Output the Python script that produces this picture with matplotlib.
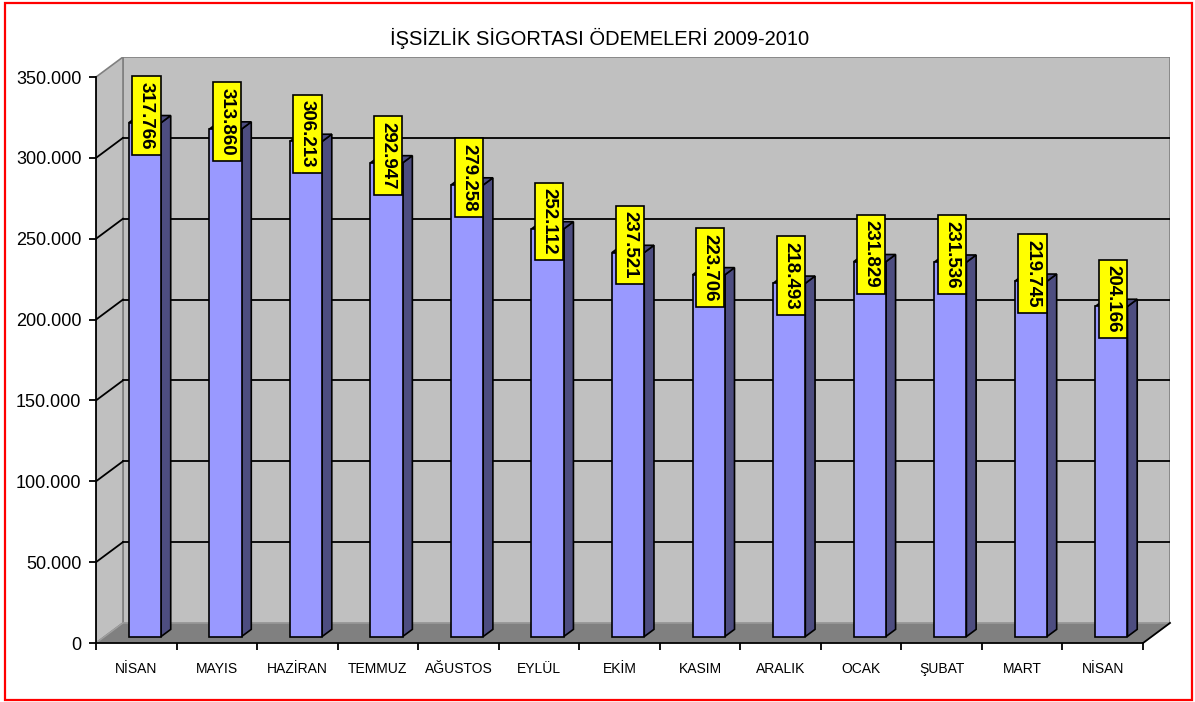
import matplotlib
matplotlib.use("Agg")
import matplotlib.pyplot as plt
from matplotlib.patches import Polygon, Rectangle

months = ["NİSAN", "MAYIS", "HAZİRAN", "TEMMUZ", "AĞUSTOS", "EYLÜL", "EKİM",
          "KASIM", "ARALIK", "OCAK", "ŞUBAT", "MART", "NİSAN"]
payments = [317766, 313860, 306213, 292947, 279258, 252112, 237521,
            223706, 218493, 231829, 231536, 219745, 204166]
y_ticks = [0, 50000, 100000, 150000, 200000, 250000, 300000, 350000]
title = "İŞSİZLİK SİGORTASI ÖDEMELERİ 2009-2010"

plt.rcParams["font.family"] = ["Liberation Sans", "DejaVu Sans"]

# pseudo-3d depth of the walls (data units)
DX = 0.335
DY = 12400
F0, F1 = 0.32, 0.68   # bar front/back as fraction of depth
BAR_W = 0.40
YMAX = 350000
n = len(months)

fig = plt.figure(figsize=(11.95, 7.02), dpi=100)
ax = fig.add_axes([96 / 1195, 59 / 702, 1074 / 1195, 586 / 702])
ax.set_xlim(0, n + DX)
ax.set_ylim(0, YMAX + DY)
ax.patch.set_visible(False)

# walls + floor
ax.add_patch(Polygon([(DX, DY), (n + DX, DY), (n + DX, YMAX + DY), (DX, YMAX + DY)],
                     closed=True, fc="#C0C0C0", ec="#808080", lw=1.2, zorder=0))
ax.add_patch(Polygon([(0, 0), (DX, DY), (DX, YMAX + DY), (0, YMAX)],
                     closed=True, fc="#C0C0C0", ec="#808080", lw=1.2, zorder=0))
ax.add_patch(Polygon([(0, 0), (n, 0), (n + DX, DY), (DX, DY)],
                     closed=True, fc="#808080", ec="#A0A0A0", lw=1.0, zorder=1))
ax.plot([n, n + DX], [0, DY], color="black", lw=1.3, zorder=2, clip_on=False)

# gridlines on back and side wall
for t in y_ticks[1:-1]:
    ax.plot([DX, n + DX], [t + DY, t + DY], color="black", lw=1.3, zorder=1)
    ax.plot([0, DX], [t, t + DY], color="black", lw=1.3, zorder=1)

ddx = (F1 - F0) * DX
ddy = (F1 - F0) * DY
for i, v in enumerate(payments):
    x0 = i + 0.5 - BAR_W / 2 + F0 * DX
    y0 = F0 * DY
    z = 3 + i
    ax.add_patch(Polygon([(x0 + BAR_W, y0), (x0 + BAR_W + ddx, y0 + ddy),
                          (x0 + BAR_W + ddx, y0 + v + ddy), (x0 + BAR_W, y0 + v)],
                         closed=True, fc="#4D4D80", ec="black", lw=1.2, zorder=z))
    ax.add_patch(Polygon([(x0, y0 + v), (x0 + BAR_W, y0 + v),
                          (x0 + BAR_W + ddx, y0 + v + ddy), (x0 + ddx, y0 + v + ddy)],
                         closed=True, fc="#4D4D80", ec="black", lw=1.2, zorder=z))
    ax.add_patch(Rectangle((x0, y0), BAR_W, v, fc="#9999FF", ec="black", lw=1.2, zorder=z))
    label = f"{v:,}".replace(",", ".")
    ax.text(x0 + BAR_W / 2 + 0.02, y0 + v + 4600, label, rotation=270,
            ha="center", va="center", fontsize=13.5, fontweight="bold", zorder=30,
            bbox=dict(boxstyle="square,pad=0.3", fc="#FFFF00", ec="black", lw=1.2))

# axes
for s in ["top", "right"]:
    ax.spines[s].set_visible(False)
ax.spines["left"].set_bounds(0, YMAX)
ax.spines["bottom"].set_bounds(0, n)
for s in ["left", "bottom"]:
    ax.spines[s].set_linewidth(1.3)
    ax.spines[s].set_zorder(2)

ax.set_yticks(y_ticks)
ax.set_yticklabels([f"{t:,}".replace(",", ".") for t in y_ticks], fontsize=13)
ax.tick_params(axis="y", length=5, width=1.3, pad=5.5)

ax.set_xticks([i + 0.5 for i in range(n)])
ax.set_xticklabels(months, fontsize=10)
ax.set_xticks(range(n + 1), minor=True)
ax.tick_params(axis="x", which="major", length=0, pad=14)
ax.tick_params(axis="x", which="minor", length=5, width=1.3)

fig.text(600 / 1195, 1 - 38 / 702, title, ha="center", va="center", fontsize=14.5)

fig.patches.append(Rectangle((5 / 1195, 2 / 702), 1187 / 1195, 697 / 702,
                             transform=fig.transFigure, fill=False, ec="red", lw=1.6))

fig.savefig("out.png", dpi=100)
